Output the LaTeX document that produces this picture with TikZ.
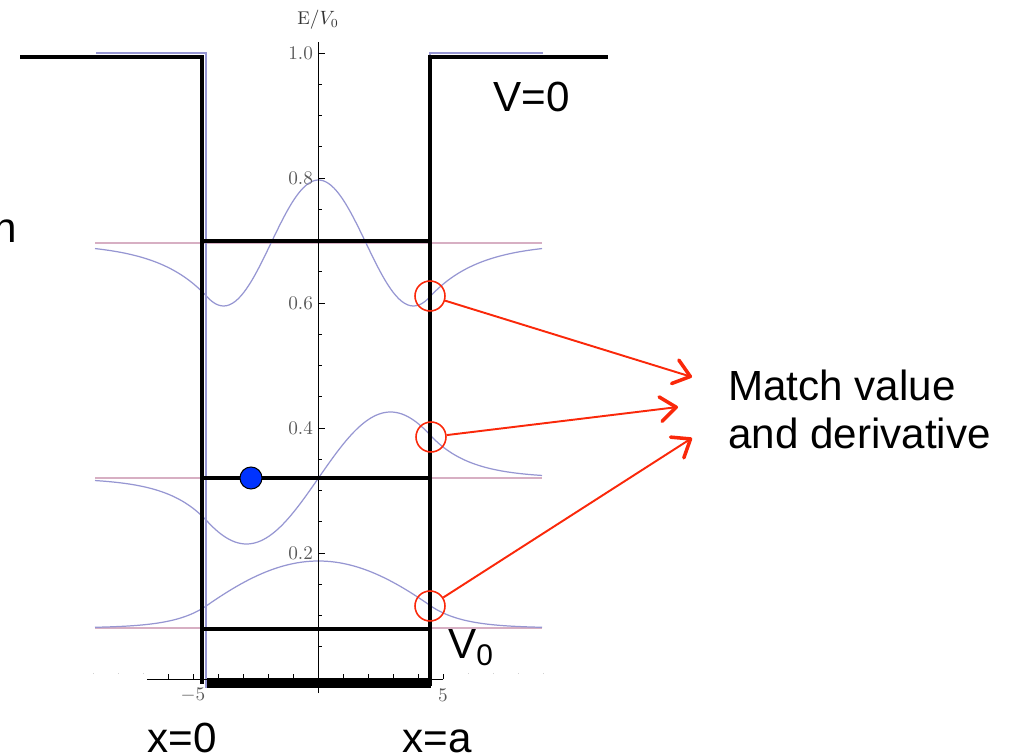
\documentclass[tikz,border=0pt]{standalone}
\usepackage{fontspec}
\setsansfont{Liberation Sans}
\usetikzlibrary{arrows.meta}

\definecolor{wavecol}{RGB}{150,150,210}
\definecolor{levelpink}{RGB}{215,175,195}
\definecolor{matchred}{RGB}{250,40,10}
\definecolor{dotblue}{RGB}{0,51,255}

\begin{document}
\begin{tikzpicture}[x=0.02cm, y=-0.02cm,
  wave/.style={wavecol, line width=0.7pt},
  eline/.style={levelpink, line width=0.7pt},
  wall/.style={black, line width=2.5pt},
  axisline/.style={black, line width=0.5pt},
  faint/.style={gray!35, line width=0.5pt},
  ticklabel/.style={font=\fontsize{10.5}{12}\selectfont, text=black!65, inner sep=1pt},
  bigtext/.style={font=\sffamily\fontsize{24}{27.3}\selectfont, inner sep=0pt},
  matchring/.style={circle, draw=matchred, line width=0.9pt, minimum size=0.6cm, inner sep=0pt},
  matcharrow/.style={matchred, line width=1.1pt, -{Straight Barb[length=9pt, width=14pt, line width=2pt, round]}},
  particle/.style={circle, draw=black, fill=dotblue, line width=0.6pt, minimum size=0.44cm, inner sep=0pt}]
  \useasboundingbox (0,0) rectangle (1010,756);

  % eigen energies and wave functions
  \foreach \e in {243,478,628}
    \draw[eline] (95,\e) -- (542,\e);
  \draw[wave] plot[domain=95:207, samples=40] (\x, {628-22.55*exp(-0.0308*(207-\x))})
    -- plot[domain=207:430, samples=80] (\x, {628-67*cos(deg(0.0110*(\x-318.5)))})
    -- plot[domain=430:542, samples=40] (\x, {628-22.55*exp(-0.0308*(\x-430))});
  \draw[wave] plot[domain=95:207, samples=40] (\x, {478+43.1*exp(-0.02527*(207-\x))})
    -- plot[domain=207:430, samples=80] (\x, {478-66*sin(deg(0.0218*(\x-318.5)))})
    -- plot[domain=430:542, samples=40] (\x, {478-43.1*exp(-0.02527*(\x-430))});
  \draw[wave] plot[domain=95:207, samples=40] (\x, {243+53.7*exp(-0.02024*(207-\x))})
    -- plot[domain=207:430, samples=80] (\x, {243-63*cos(deg(0.0331*(\x-318.5)))})
    -- plot[domain=430:542, samples=40] (\x, {243+53.7*exp(-0.02024*(\x-430))});
  \draw[wave] (96,53) -- (206,53) -- (206,688);
  \draw[wave] (430,688) -- (430,53) -- (543,53);

  % axes
  \draw[axisline] (147,679) -- (443,679);
  \draw[axisline] (318,693) -- (318,42);
  \foreach \i in {1,...,20}
    \draw[axisline] (318,{678-31.25*\i}) -- ++(4,0);
  \foreach \e in {0.2,0.4,0.6,0.8,1.0} {
    \draw[axisline] (318,{678-625*\e}) -- ++(7,0);
    \node[ticklabel, anchor=east] at (315,{678-625*\e}) {$\e$};
  }
  \foreach \i in {-6,...,5}
    \draw[axisline] ({318+25*\i},679) -- ++(0,-5);
  \foreach \i in {-9,-8,-7,6,7,8,9}
    \draw[faint] ({318+25*\i},674) -- ++(0,-1.5);
  \node[ticklabel] (xmin) at (193,695) {$-5$};
  \node[ticklabel] (xmax) at (443,695) {$5$};
  \node[ticklabel, text=black!80] (elabel) at (318,20) {$\mathrm{E}/V_0$};

  % the well and its levels
  \draw[wall] (20,57) -- (202,57) -- (202,684);
  \draw[wall] (430,686) -- (430,57) -- (608,57);
  \fill (207,678) rectangle (431,688);
  \foreach \e in {241,478,629}
    \draw[wall] (204,\e) -- (430,\e);
  \node[particle] (dot) at (251,478) {};

  % matching at the wall
  \node[matchring] (ring1) at (430,296) {};
  \node[matchring] (ring2) at (431,437) {};
  \node[matchring] (ring3) at (430,606) {};
  \coordinate (tip1) at (692,377);
  \coordinate (tip2) at (678,407);
  \coordinate (tip3) at (692,438);
  \draw[matcharrow] (ring1) -- (tip1);
  \draw[matcharrow] (ring2) -- (tip2);
  \draw[matcharrow] (ring3) -- (tip3);

  \node[bigtext, anchor=base west] (vtop) at (493,112) {V=0};
  \node[bigtext, anchor=base west] (vbottom) at (448,658) {V\raisebox{-4pt}{\fontsize{17}{17}\selectfont 0}};
  \node[bigtext, anchor=base west] (xleft) at (147,752) {x=0};
  \node[bigtext, anchor=base west] (xright) at (402,752) {x=a};
  \node[bigtext, anchor=base east] (cutword) at (17,243) {n};
  \node[bigtext, anchor=base west, align=left] (matchtext) at (728,448) {Match value\\and derivative};
\end{tikzpicture}
\end{document}
